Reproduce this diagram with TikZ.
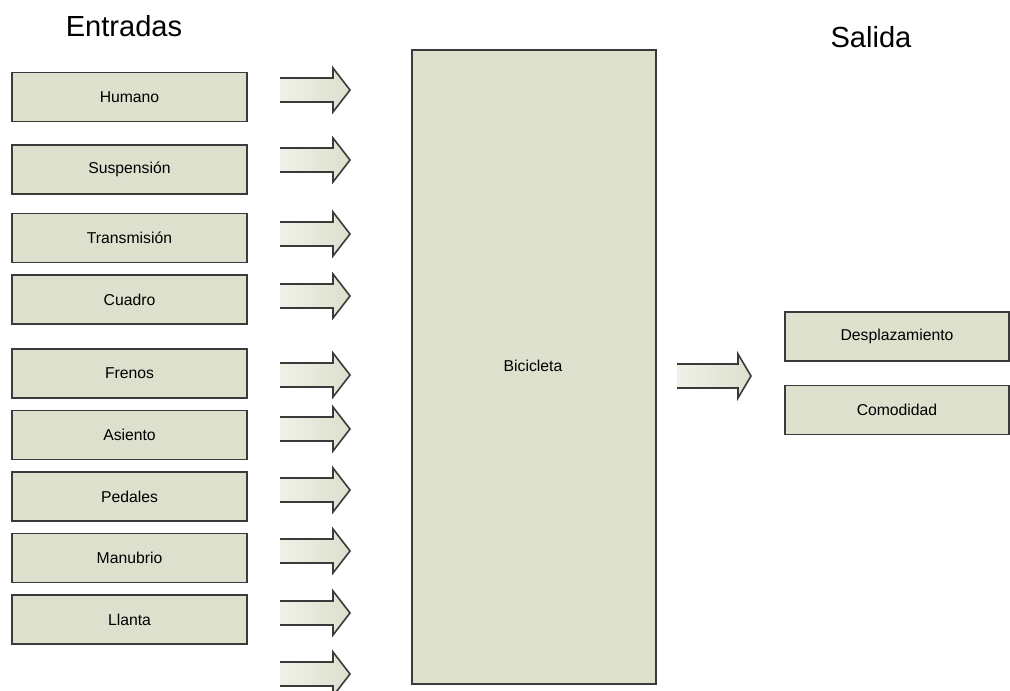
\documentclass[tikz,border=0pt]{standalone}
\usepackage{fontspec}
\setmainfont{Liberation Sans}
\definecolor{boxfill}{HTML}{DCE0CC}
\definecolor{boxline}{HTML}{3A3A3A}
\begin{document}
\begin{tikzpicture}[x=0.75pt,y=-0.75pt,
  box/.style={draw=boxline,line width=1.2pt,fill=boxfill,minimum height=36.8pt,
    inner sep=0pt,font=\fontsize{11.8}{14}\selectfont},
  inbox/.style={box,minimum width=176.2pt},
  outbox/.style={box,minimum width=168pt},
  title/.style={font=\fontsize{21.8}{26}\selectfont,anchor=base},
  pics/barrow/.style 2 args={code={
    \path[left color=white!55!boxfill,right color=boxfill]
      (0,-12) -- (#1,-12) -- (#1,-22) -- ++(#2,22) -- (#1,22) -- (#1,12) -- (0,12) -- cycle;
    \draw[boxline,line width=1.2pt,line join=miter]
      (0,-12) -- (#1,-12) -- (#1,-22) -- ++(#2,22) -- (#1,22) -- (#1,12) -- (0,12);
  }}]
\useasboundingbox (0,0) rectangle (1010,691);

\node[title] (entradas) at (124,37) {Entradas};
\node[title] (salida) at (871,48) {Salida};

\node[inbox] (humano)  at (129.5,97)   {Humano};
\node[inbox] (susp)    at (129.5,169.5) {Suspensión};
\node[inbox] (trans)   at (129.5,238)  {Transmisión};
\node[inbox] (cuadro)  at (129.5,299.5) {Cuadro};
\node[inbox] (frenos)  at (129.5,373.5) {Frenos};
\node[inbox] (asiento) at (129.5,435)  {Asiento};
\node[inbox] (pedales) at (129.5,496.5) {Pedales};
\node[inbox] (manub)   at (129.5,558)  {Manubrio};
\node[inbox] (llanta)  at (129.5,619.5) {Llanta};

\node[box,minimum width=183pt,minimum height=475.5pt] (bici) at (534,367) {};
\node[font=\fontsize{11.8}{14}\selectfont] (bicilabel) at (533,366) {Bicicleta};

\node[outbox] (despl) at (897,336.5) {Desplazamiento};
\node[outbox] (comod) at (897,410)   {Comodidad};

\foreach \y in {90,160,234,296,375,429,490,551,613,674}
  \pic at (280,\y) {barrow={53}{17}};
\pic at (677,376) {barrow={61}{13}};
\end{tikzpicture}
\end{document}
